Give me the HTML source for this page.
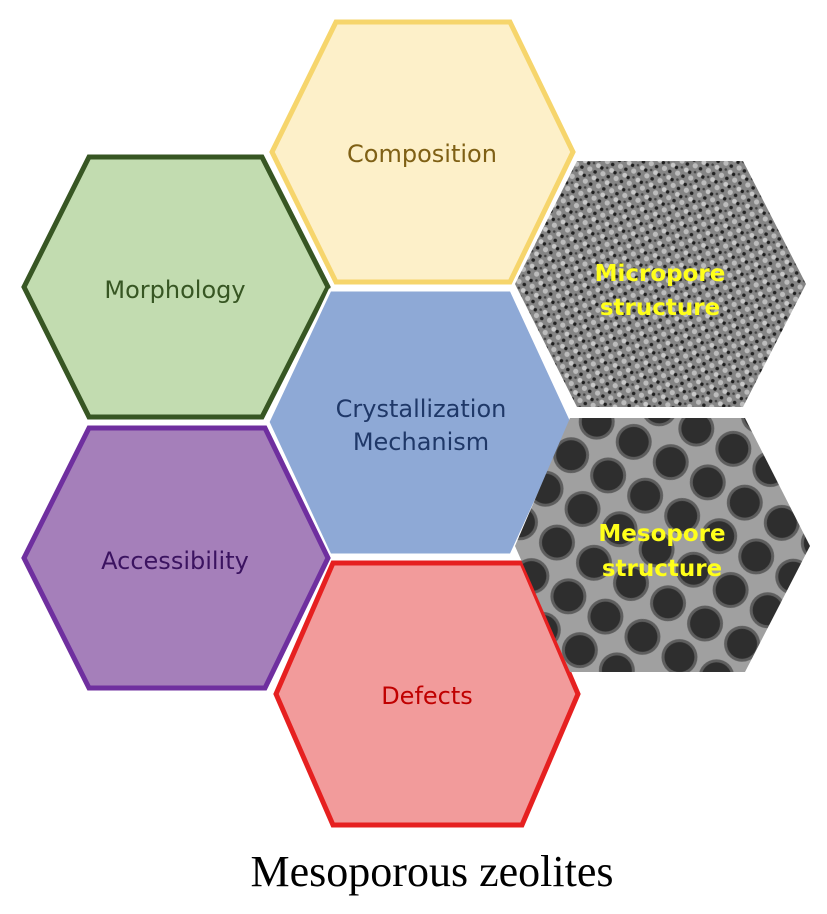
<!DOCTYPE html>
<html><head><meta charset="utf-8"><style>
html,body{margin:0;padding:0;background:#fff;}
svg{display:block;}
text{font-family:"DejaVu Sans","Liberation Sans",sans-serif;}
</style></head><body>
<svg width="827" height="914" viewBox="0 0 827 914" xmlns="http://www.w3.org/2000/svg">
<defs>
<pattern id="micro" width="14" height="13" patternUnits="userSpaceOnUse" patternTransform="rotate(20)">
<rect width="14" height="13" fill="#858585"/>
<circle cx="3" cy="3" r="2.4" fill="#c8c8c8"/>
<circle cx="10" cy="9" r="2.6" fill="#bcbcbc"/>
<circle cx="7" cy="4" r="1.7" fill="#1e1e1e"/>
<circle cx="2" cy="10" r="1.8" fill="#222"/>
<circle cx="12" cy="2" r="1.3" fill="#444"/>
</pattern>
<pattern id="meso" width="64" height="55" patternUnits="userSpaceOnUse" patternTransform="rotate(-12)">
<rect width="64" height="55" fill="#a0a0a0"/>
<g fill="#5e5e5e">
<circle cx="16" cy="14" r="18"/><circle cx="48" cy="41.5" r="18"/><circle cx="80" cy="14" r="18"/><circle cx="-16" cy="41.5" r="18"/>
<circle cx="16" cy="69" r="18"/><circle cx="48" cy="-13.5" r="18"/><circle cx="80" cy="69" r="18"/><circle cx="-16" cy="-13.5" r="18"/>
</g>
<g fill="#2e2e2e">
<circle cx="16" cy="14" r="15"/><circle cx="48" cy="41.5" r="15"/><circle cx="80" cy="14" r="15"/><circle cx="-16" cy="41.5" r="15"/>
<circle cx="16" cy="69" r="15"/><circle cx="48" cy="-13.5" r="15"/><circle cx="80" cy="69" r="15"/><circle cx="-16" cy="-13.5" r="15"/>
</g>
</pattern>
</defs>
<polygon points="336,22 510,22 573,152 510,282 336,282 272,152" fill="#fdf0c9" stroke="#f6d56c" stroke-width="5"/>
<text x="422" y="162" text-anchor="middle" font-size="24" fill="#7f6015">Composition</text>
<polygon points="89,157 262,157 328,287 262,417 89,417 24,287" fill="#c2dcb0" stroke="#375623" stroke-width="5"/>
<text x="175" y="298" text-anchor="middle" font-size="24" fill="#375623">Morphology</text>
<polygon points="330,290 511,290 572,422 511,555 330,555 268,422" fill="#8ea9d6" stroke="#fff" stroke-width="3"/>
<text x="421" y="417" text-anchor="middle" font-size="24" fill="#1f3868">Crystallization</text>
<text x="421" y="450" text-anchor="middle" font-size="24" fill="#1f3868">Mechanism</text>
<polygon points="89,428 265,428 328,558 265,688 89,688 24,558" fill="#a57fba" stroke="#6f2f9f" stroke-width="5"/>
<text x="175" y="569" text-anchor="middle" font-size="24" fill="#3b1360">Accessibility</text>
<polygon points="333,563 522,563 578,694 522,825 333,825 276,694" fill="#f29b9b" stroke="#e62020" stroke-width="5"/>
<text x="427" y="704" text-anchor="middle" font-size="24" fill="#c00000">Defects</text>
<polygon points="577,161 743,161 806,284 743,407 577,407 515,284" fill="url(#micro)"/>
<text x="660" y="281" text-anchor="middle" font-size="23" font-weight="bold" fill="#ffff1a">Micropore</text>
<text x="660" y="315" text-anchor="middle" font-size="23" font-weight="bold" fill="#ffff1a">structure</text>
<polygon points="570,418 745,418 810,546 745,672 570,672 515,546" fill="url(#meso)"/>
<text x="662" y="541" text-anchor="middle" font-size="23" font-weight="bold" fill="#ffff1a">Mesopore</text>
<text x="662" y="576" text-anchor="middle" font-size="23" font-weight="bold" fill="#ffff1a">structure</text>
<text x="432" y="886" text-anchor="middle" font-size="44" fill="#000" style="font-family:'Liberation Serif',serif">Mesoporous zeolites</text>
</svg>
</body></html>
